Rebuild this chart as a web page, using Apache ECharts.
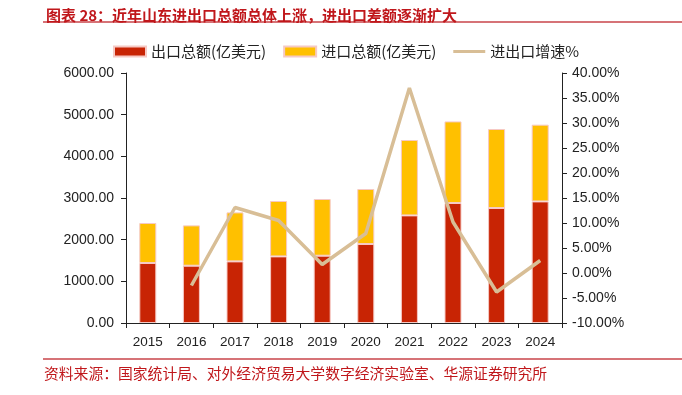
<!DOCTYPE html>
<html><head><meta charset="utf-8">
<script src="https://cdn.jsdelivr.net/npm/echarts@6/dist/echarts.min.js"></script>
<style>html,body{margin:0;padding:0;background:#fff}#c{width:682px;height:395px}</style>
</head><body><div id="c"></div>
<script>
var years = ['2015','2016','2017','2018','2019','2020','2021','2022','2023','2024'];
var exportVals = [1440, 1375, 1479, 1599, 1615, 1896, 2583, 2880, 2760, 2918];
var importVals = [960, 968, 1176, 1329, 1361, 1320, 1809, 1958, 1896, 1842];
var growthVals = [null, -2.5, 13.1, 10.5, 1.7, 7.9, 37.0, 10.2, -3.8, 2.5];
var leftTicks = [0, 1000, 2000, 3000, 4000, 5000, 6000];
var rightTicks = [-10, -5, 0, 5, 10, 15, 20, 25, 30, 35, 40];

var chart = echarts.init(document.getElementById('c'));
var cjk = '"Noto Sans CJK SC", sans-serif';
var lat = 'Arial, "Liberation Sans", sans-serif';
var lineIcon = 'path://M0,0h32v0.01h-32z M0,3.5h32v3h-32z M0,10h32v0.01h-32z';
chart.setOption({
  animation: false,
  title: {
    text: '图表 28：近年山东进出口总额总体上涨，进出口差额逐渐扩大',
    left: 41, top: 3,
    textStyle: {color: '#C0171B', fontSize: 15, fontWeight: 'bold', fontFamily: cjk}
  },
  graphic: [
    {type: 'line', shape: {x1: 43, y1: 22, x2: 682, y2: 22}, style: {stroke: '#C8454A', lineWidth: 1.5}},
    {type: 'line', shape: {x1: 43, y1: 359, x2: 682, y2: 359}, style: {stroke: '#C8454A', lineWidth: 1.5}},
    {type: 'text', left: 44, top: 366, style: {text: '资料来源：国家统计局、对外经济贸易大学数字经济实验室、华源证券研究所', fill: '#C0171B', font: '14.8px ' + cjk}}
  ],
  legend: {
    top: 39, left: 108,
    itemWidth: 32, itemHeight: 10, itemGap: 17,
    textStyle: {fontSize: 15, color: '#222', fontFamily: cjk},
    data: [
      {name: '出口总额(亿美元)', icon: 'rect'},
      {name: '进口总额(亿美元)', icon: 'rect'},
      {name: '进出口增速%', icon: lineIcon}
    ]
  },
  grid: {left: 126, right: 120, top: 73, bottom: 72},
  xAxis: {
    type: 'category', data: years,
    axisLine: {lineStyle: {color: '#222'}},
    axisTick: {show: true, alignWithLabel: false, lineStyle: {color: '#222'}},
    axisLabel: {color: '#222', fontSize: 13.5, fontFamily: lat, margin: 12}
  },
  yAxis: [
    {
      type: 'value', min: leftTicks[0], max: leftTicks[leftTicks.length - 1], interval: 1000,
      axisLine: {show: true, lineStyle: {color: '#222'}},
      axisTick: {show: true, lineStyle: {color: '#222'}},
      splitLine: {show: false},
      axisLabel: {color: '#222', fontSize: 14, fontFamily: lat, margin: 12, formatter: function (v) { return v.toFixed(2); }}
    },
    {
      type: 'value', min: rightTicks[0], max: rightTicks[rightTicks.length - 1], interval: 5,
      axisLine: {show: true, lineStyle: {color: '#222'}},
      axisTick: {show: true, lineStyle: {color: '#222'}},
      splitLine: {show: false},
      axisLabel: {color: '#222', fontSize: 14, fontFamily: lat, margin: 10, formatter: function (v) { return v.toFixed(2) + '%'; }}
    }
  ],
  series: [
    {name: '出口总额(亿美元)', type: 'bar', stack: 't', data: exportVals, barWidth: 17,
      itemStyle: {color: '#C82404', borderColor: '#F6C9C4', borderWidth: 1}},
    {name: '进口总额(亿美元)', type: 'bar', stack: 't', data: importVals, barWidth: 17,
      itemStyle: {color: '#FFC000', borderColor: '#F6C9C4', borderWidth: 1}},
    {name: '进出口增速%', type: 'line', yAxisIndex: 1, data: growthVals, symbol: 'none',
      lineStyle: {color: '#D8BE96', width: 3.5}, itemStyle: {color: '#D8BE96'}}
  ]
});
</script></body></html>
